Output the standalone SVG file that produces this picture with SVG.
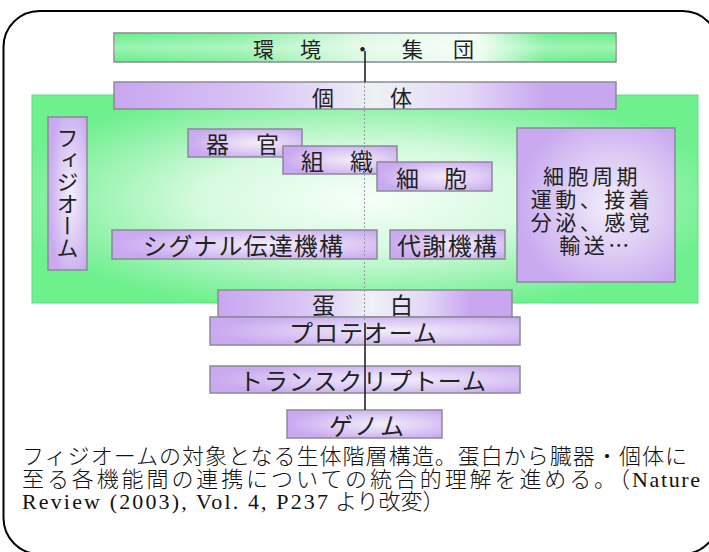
<svg xmlns="http://www.w3.org/2000/svg" width="709" height="552" viewBox="0 0 709 552">
<style>
.box{stroke:#8a8a96;stroke-width:1.5}
.lbl{font-family:"Noto Sans CJK JP","Noto Sans",sans-serif;fill:#222;font-weight:400;dominant-baseline:central}
.cap{font-family:"Liberation Serif","Noto Sans CJK JP",serif;fill:#111;font-size:22px;font-weight:300}
</style>
<defs>
<linearGradient id="gBar" x1="0" y1="0" x2="1" y2="0">
<stop offset="0" stop-color="#66ee88"/>
<stop offset="0.25" stop-color="#86f0a0"/>
<stop offset="0.5" stop-color="#dcf9e3"/>
<stop offset="0.72" stop-color="#f2fdf4"/>
<stop offset="0.86" stop-color="#72ee90"/>
<stop offset="1" stop-color="#66ee88"/>
</linearGradient>
<linearGradient id="pBar" x1="0" y1="0" x2="1" y2="0">
<stop offset="0" stop-color="#c8a6f0"/>
<stop offset="0.3" stop-color="#dac6f5"/>
<stop offset="0.52" stop-color="#eef1f5"/>
<stop offset="0.7" stop-color="#e4d8f7"/>
<stop offset="0.86" stop-color="#c8a6f0"/>
<stop offset="1" stop-color="#c8a6f0"/>
</linearGradient>
<linearGradient id="gloss" x1="0" y1="0" x2="0" y2="1">
<stop offset="0" stop-color="#fff" stop-opacity="0"/>
<stop offset="0.5" stop-color="#fff" stop-opacity="0.35"/>
<stop offset="1" stop-color="#fff" stop-opacity="0"/>
</linearGradient>
<radialGradient id="gBig" cx="0.5" cy="0.5" r="0.55">
<stop offset="0" stop-color="#f6fff8"/>
<stop offset="0.45" stop-color="#d6fadf"/>
<stop offset="0.8" stop-color="#92f2aa"/>
<stop offset="1" stop-color="#6ef08e"/>
</radialGradient>
<radialGradient id="pBox" cx="0.6" cy="0.5" r="0.6">
<stop offset="0" stop-color="#f2eefa"/>
<stop offset="0.55" stop-color="#dccaf4"/>
<stop offset="1" stop-color="#c9a9f0"/>
</radialGradient>
</defs>
<rect x="3.5" y="11" width="715" height="543" rx="36" fill="#fff" stroke="#000" stroke-width="2"/>

<g id="physiome-area">
<rect x="32" y="95" width="666" height="208" fill="url(#gBig)" stroke="#5fdc7e" stroke-width="1"/>
</g>
<g id="env">
<rect class="box" x="114" y="33" width="502" height="29" fill="url(#gBar)"/>
<rect x="114" y="33" width="502" height="29" fill="url(#gloss)"/>
<text class="lbl" font-size="21" x="253 300 352 402 453" y="48">環境・集団</text>
</g>
<g id="individual">
<rect class="box" x="114" y="82" width="502" height="27" fill="url(#pBar)"/>
<text class="lbl" font-size="22" x="312 390" y="95.5">個体</text>
</g>
<g id="physiome">
<rect class="box" x="48" y="117" width="39" height="153" fill="url(#pBox)"/>
<text class="lbl" font-size="22" x="67.5" y="192.5" text-anchor="middle" style="writing-mode:vertical-rl;dominant-baseline:auto">フィジオーム</text>
</g>
<g id="organ">
<rect class="box" x="188" y="129" width="114" height="28" fill="url(#pBox)"/>
<text class="lbl" font-size="23" x="206 256" y="143">器官</text>
</g>
<g id="tissue">
<rect class="box" x="283" y="146" width="114" height="28" fill="url(#pBox)"/>
<text class="lbl" font-size="23" x="301 350" y="160">組織</text>
</g>
<g id="cell">
<rect class="box" x="377" y="162" width="115" height="29" fill="url(#pBox)"/>
<text class="lbl" font-size="23" x="396 444" y="176.5">細胞</text>
</g>
<g id="signal">
<rect class="box" x="112" y="230" width="265" height="29" fill="url(#pBox)"/>
<text class="lbl" font-size="24" x="143" y="244.5" textLength="200" lengthAdjust="spacing">シグナル伝達機構</text>
</g>
<g id="metabolism">
<rect class="box" x="390" y="230" width="115" height="29" fill="url(#pBox)"/>
<text class="lbl" font-size="24" x="397" y="244.5" textLength="100" lengthAdjust="spacing">代謝機構</text>
</g>
<g id="functions">
<rect class="box" x="517" y="128" width="158" height="154" fill="url(#pBox)"/>
<text class="lbl" font-size="21" text-anchor="middle" letter-spacing="3.5">
<tspan x="596" y="175">細胞周期</tspan>
<tspan x="596" y="198">運動、接着</tspan>
<tspan x="596" y="221">分泌、感覚</tspan>
<tspan x="596" y="244">輸送…</tspan>
</text>
</g>
<g id="protein">
<rect class="box" x="218" y="290" width="294" height="27" fill="url(#pBar)"/>
<text class="lbl" font-size="23" x="312 390" y="303.5">蛋白</text>
</g>
<g id="proteome">
<rect class="box" x="210" y="317" width="310" height="28" fill="url(#pBox)"/>
<text class="lbl" font-size="24" x="289" y="331" textLength="148" lengthAdjust="spacing">プロテオーム</text>
</g>
<g id="transcriptome">
<rect class="box" x="210" y="366" width="310" height="27" fill="url(#pBox)"/>
<text class="lbl" font-size="24" x="239" y="379.5" textLength="247" lengthAdjust="spacing">トランスクリプトーム</text>
</g>
<g id="genome">
<rect class="box" x="287" y="410" width="155" height="28" fill="url(#pBox)"/>
<text class="lbl" font-size="24" x="329" y="424" textLength="75" lengthAdjust="spacing">ゲノム</text>
</g>

<g id="connectors">
<path d="M365 51 V82" stroke="#222" stroke-width="1.6" fill="none"/>
<path d="M364.5 82 V323" stroke="#9a9a9a" stroke-width="1" stroke-dasharray="2 2" fill="none"/>
<path d="M365 323 V410" stroke="#222" stroke-width="1.6" fill="none"/>
</g>

<g id="caption">
<text class="cap" x="22" y="464" textLength="665" lengthAdjust="spacing">フィジオームの対象となる生体階層構造。蛋白から臓器・個体に</text>
<text class="cap" x="22" y="487" textLength="608" lengthAdjust="spacing">至る各機能間の連携についての統合的理解を進める。（</text>
<text class="cap" x="632" y="487" font-size="23" textLength="68" lengthAdjust="spacing">Nature</text>
<text class="cap" x="22" y="509" font-size="23" textLength="306" lengthAdjust="spacing">Review (2003), Vol. 4, P237</text>
<text class="cap" x="335" y="509">より改変）</text>
</g>
</svg>
